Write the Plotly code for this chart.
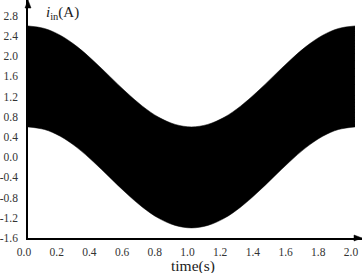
import plotly.graph_objects as go

# time points (s)
t = [0.0, 0.1, 0.2, 0.3, 0.4, 0.5, 0.6, 0.7, 0.8, 0.9, 1.0,
     1.1, 1.2, 1.3, 1.4, 1.5, 1.6, 1.7, 1.8, 1.9, 2.0]
# upper and lower envelope of the input current band (A)
i_upper = [2.60, 2.55, 2.41, 2.19, 1.91, 1.60, 1.29, 1.01, 0.79, 0.65, 0.60,
           0.65, 0.79, 1.01, 1.29, 1.60, 1.91, 2.19, 2.41, 2.55, 2.60]
i_lower = [0.60, 0.55, 0.41, 0.19, -0.09, -0.40, -0.71, -0.99, -1.21, -1.35, -1.40,
           -1.35, -1.21, -0.99, -0.71, -0.40, -0.09, 0.19, 0.41, 0.55, 0.60]

x_ticks = [0.0, 0.2, 0.4, 0.6, 0.8, 1.0, 1.2, 1.4, 1.6, 1.8, 2.0]
y_ticks = [-1.6, -1.2, -0.8, -0.4, 0.0, 0.4, 0.8, 1.2, 1.6, 2.0, 2.4, 2.8]

fig = go.Figure()
fig.add_trace(go.Scatter(x=t, y=i_lower, mode="lines", line=dict(color="black", width=0.5, shape="spline"),
                         showlegend=False, hoverinfo="skip"))
fig.add_trace(go.Scatter(x=t, y=i_upper, mode="lines", line=dict(color="black", width=0.5, shape="spline"),
                         fill="tonexty", fillcolor="black", showlegend=False, hoverinfo="skip"))

font_family = "Liberation Serif, Times New Roman, serif"
fig.update_layout(
    width=363, height=273,
    margin=dict(l=26, r=1, t=0, b=35),
    paper_bgcolor="white", plot_bgcolor="white",
    font=dict(family=font_family, size=11.5, color="#333"),
    xaxis=dict(range=[0, 2.043], tickvals=x_ticks, ticktext=[f"{v:.1f}" for v in x_ticks],
               showgrid=False, zeroline=False, showline=True, linecolor="black", linewidth=1.5,
               ticks="", ticklabelstandoff=2, ticklabelshift=-4),
    yaxis=dict(range=[-1.6, 3.113], tickvals=y_ticks, ticktext=[f"{v:.1f}" for v in y_ticks],
               showgrid=False, zeroline=False, showline=True, linecolor="black", linewidth=1.5,
               ticks="", ticklabelstandoff=6),
    shapes=[
        # arrowhead on top of the y axis
        dict(type="path", xref="paper", yref="paper", xsizemode="pixel", ysizemode="pixel",
             xanchor=0, yanchor=1, path="M -3,-8 L 0,0 L 3,-8 Z",
             fillcolor="black", line=dict(color="black", width=0.5), layer="above"),
        # arrowhead at right end of the x axis
        dict(type="path", xref="paper", yref="paper", xsizemode="pixel", ysizemode="pixel",
             xanchor=1, yanchor=0, path="M -8,-3 L 0,0 L -8,3 Z",
             fillcolor="black", line=dict(color="black", width=0.5), layer="above"),
    ],
    annotations=[
        dict(x=0.048, y=0.99, xref="paper", yref="paper", xanchor="left", yanchor="top",
             text="<i>i</i><sub>in</sub>(A)", showarrow=False,
             font=dict(family=font_family, size=15, color="#222")),
        dict(x=0.495, y=-0.1176, xref="paper", yref="paper", xanchor="center", yanchor="middle",
             text="time(s)", showarrow=False,
             font=dict(family=font_family, size=15.5, color="#222")),
    ],
)

fig.write_html("out.html")
